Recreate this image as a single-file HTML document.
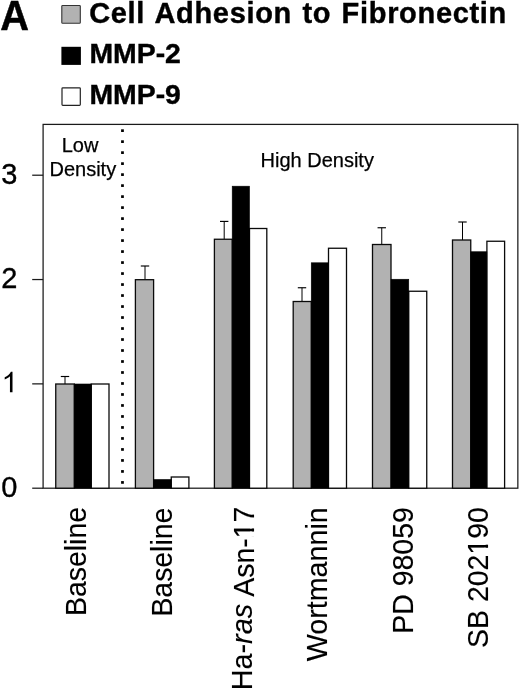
<!DOCTYPE html>
<html><head><meta charset="utf-8"><title>Figure A</title>
<style>
html,body{margin:0;padding:0;background:#fff;}
body{width:520px;height:689px;overflow:hidden;font-family:"Liberation Sans",sans-serif;}
svg{display:block;font-family:"Liberation Sans",sans-serif;filter:blur(0.2px);}
</style></head><body>
<svg width="520" height="689" viewBox="0 0 520 689">
<rect width="520" height="689" fill="#fff"/>

<text transform="translate(0.3,29.5) scale(0.94,1)" font-size="42.3" font-weight="bold" fill="#000" stroke="#000" stroke-width="0.5">A</text>
<rect x="61.8" y="5.5" width="18.5" height="17.8" rx="0.8" fill="#b2b2b2" stroke="#333" stroke-width="1.1"/>
<rect x="61.4" y="46.8" width="19.5" height="18.1" fill="#000"/>
<rect x="62" y="87.8" width="18.3" height="17.6" rx="0.8" fill="#fff" stroke="#222" stroke-width="1.2"/>
<text x="89.2" y="22.8" font-size="29" font-weight="bold" letter-spacing="0.68" word-spacing="1.7" fill="#000" stroke="#000" stroke-width="0.4">Cell Adhesion to Fibronectin</text>
<text x="89.4" y="63.3" font-size="28.4" font-weight="bold" fill="#000" stroke="#000" stroke-width="0.4">MMP-2</text>
<text x="89.4" y="104.4" font-size="28.4" font-weight="bold" fill="#000" stroke="#000" stroke-width="0.4">MMP-9</text>
<rect x="43.1" y="124.4" width="474.75" height="363.8" fill="none" stroke="#1a1a1a" stroke-width="1.25"/>
<line x1="32.2" y1="488.20" x2="43.1" y2="488.20" stroke="#1a1a1a" stroke-width="1.25"/>
<text x="1.2" y="496.80" font-size="29" fill="#000" stroke="#000" stroke-width="0.35">0</text>
<line x1="32.2" y1="383.87" x2="43.1" y2="383.87" stroke="#1a1a1a" stroke-width="1.25"/>
<path d="M12.5 371.7 L12.5 392.2 L9.95 392.2 L9.95 376.3 C8.7 377.5 6.9 378.6 4.7 379.5 L4.7 377.3 C7.5 376 9.7 374 10.9 371.7 Z" fill="#000"/>
<line x1="32.2" y1="279.54" x2="43.1" y2="279.54" stroke="#1a1a1a" stroke-width="1.25"/>
<text x="1.2" y="288.14" font-size="29" fill="#000" stroke="#000" stroke-width="0.35">2</text>
<line x1="32.2" y1="175.21" x2="43.1" y2="175.21" stroke="#1a1a1a" stroke-width="1.25"/>
<text x="1.2" y="183.81" font-size="29" fill="#000" stroke="#000" stroke-width="0.35">3</text>
<rect x="121.1" y="129.30" width="2.75" height="2.7" fill="#000"/>
<rect x="121.1" y="140.29" width="2.75" height="2.7" fill="#000"/>
<rect x="121.1" y="151.29" width="2.75" height="2.7" fill="#000"/>
<rect x="121.1" y="162.28" width="2.75" height="2.7" fill="#000"/>
<rect x="121.1" y="173.27" width="2.75" height="2.7" fill="#000"/>
<rect x="121.1" y="184.26" width="2.75" height="2.7" fill="#000"/>
<rect x="121.1" y="195.26" width="2.75" height="2.7" fill="#000"/>
<rect x="121.1" y="206.25" width="2.75" height="2.7" fill="#000"/>
<rect x="121.1" y="217.24" width="2.75" height="2.7" fill="#000"/>
<rect x="121.1" y="228.24" width="2.75" height="2.7" fill="#000"/>
<rect x="121.1" y="239.23" width="2.75" height="2.7" fill="#000"/>
<rect x="121.1" y="250.22" width="2.75" height="2.7" fill="#000"/>
<rect x="121.1" y="261.22" width="2.75" height="2.7" fill="#000"/>
<rect x="121.1" y="272.21" width="2.75" height="2.7" fill="#000"/>
<rect x="121.1" y="283.20" width="2.75" height="2.7" fill="#000"/>
<rect x="121.1" y="294.19" width="2.75" height="2.7" fill="#000"/>
<rect x="121.1" y="305.19" width="2.75" height="2.7" fill="#000"/>
<rect x="121.1" y="316.18" width="2.75" height="2.7" fill="#000"/>
<rect x="121.1" y="327.17" width="2.75" height="2.7" fill="#000"/>
<rect x="121.1" y="338.17" width="2.75" height="2.7" fill="#000"/>
<rect x="121.1" y="349.16" width="2.75" height="2.7" fill="#000"/>
<rect x="121.1" y="360.15" width="2.75" height="2.7" fill="#000"/>
<rect x="121.1" y="371.15" width="2.75" height="2.7" fill="#000"/>
<rect x="121.1" y="382.14" width="2.75" height="2.7" fill="#000"/>
<rect x="121.1" y="393.13" width="2.75" height="2.7" fill="#000"/>
<rect x="121.1" y="404.12" width="2.75" height="2.7" fill="#000"/>
<rect x="121.1" y="415.12" width="2.75" height="2.7" fill="#000"/>
<rect x="121.1" y="426.11" width="2.75" height="2.7" fill="#000"/>
<rect x="121.1" y="437.10" width="2.75" height="2.7" fill="#000"/>
<rect x="121.1" y="448.10" width="2.75" height="2.7" fill="#000"/>
<rect x="121.1" y="459.09" width="2.75" height="2.7" fill="#000"/>
<rect x="121.1" y="470.08" width="2.75" height="2.7" fill="#000"/>
<rect x="121.1" y="481.08" width="2.75" height="2.7" fill="#000"/>
<text x="80" y="151.8" font-size="20" text-anchor="middle" fill="#000" stroke="#000" stroke-width="0.25">Low</text>
<text x="82.85" y="175.8" font-size="20" text-anchor="middle" fill="#000" stroke="#000" stroke-width="0.25">Density</text>
<text x="317.25" y="167.1" font-size="20" text-anchor="middle" fill="#000" stroke="#000" stroke-width="0.25">High Density</text>
<line x1="65.00" y1="376.50" x2="65.00" y2="384.00" stroke="#000" stroke-width="1"/>
<line x1="60.80" y1="376.50" x2="69.20" y2="376.50" stroke="#000" stroke-width="1.15"/>
<rect x="55.75" y="384.00" width="18.50" height="104.20" fill="#b2b2b2" stroke="#0a0a0a" stroke-width="1.3"/>
<rect x="91.25" y="384.00" width="17.75" height="104.20" fill="#fff" stroke="#0a0a0a" stroke-width="1.3"/>
<rect x="74.25" y="384.00" width="17.00" height="104.20" fill="#000" stroke="#000" stroke-width="0.6"/>
<line x1="145.00" y1="266.00" x2="145.00" y2="279.70" stroke="#000" stroke-width="1"/>
<line x1="140.80" y1="266.00" x2="149.20" y2="266.00" stroke="#000" stroke-width="1.15"/>
<rect x="135.40" y="279.70" width="18.20" height="208.50" fill="#b2b2b2" stroke="#0a0a0a" stroke-width="1.3"/>
<rect x="171.25" y="477.00" width="17.65" height="11.20" fill="#fff" stroke="#0a0a0a" stroke-width="1.3"/>
<rect x="153.60" y="479.50" width="17.65" height="8.70" fill="#000" stroke="#000" stroke-width="0.6"/>
<line x1="224.20" y1="221.40" x2="224.20" y2="239.25" stroke="#000" stroke-width="1"/>
<line x1="220.00" y1="221.40" x2="228.40" y2="221.40" stroke="#000" stroke-width="1.15"/>
<rect x="214.40" y="239.25" width="17.80" height="248.95" fill="#b2b2b2" stroke="#0a0a0a" stroke-width="1.3"/>
<rect x="249.50" y="228.50" width="17.30" height="259.70" fill="#fff" stroke="#0a0a0a" stroke-width="1.3"/>
<rect x="232.20" y="186.20" width="17.30" height="302.00" fill="#000" stroke="#000" stroke-width="0.6"/>
<line x1="302.00" y1="287.75" x2="302.00" y2="301.50" stroke="#000" stroke-width="1"/>
<line x1="297.80" y1="287.75" x2="306.20" y2="287.75" stroke="#000" stroke-width="1.15"/>
<rect x="293.20" y="301.50" width="18.05" height="186.70" fill="#b2b2b2" stroke="#0a0a0a" stroke-width="1.3"/>
<rect x="328.50" y="248.25" width="18.00" height="239.95" fill="#fff" stroke="#0a0a0a" stroke-width="1.3"/>
<rect x="311.25" y="262.80" width="17.25" height="225.40" fill="#000" stroke="#000" stroke-width="0.6"/>
<line x1="381.75" y1="227.75" x2="381.75" y2="244.50" stroke="#000" stroke-width="1"/>
<line x1="377.55" y1="227.75" x2="385.95" y2="227.75" stroke="#000" stroke-width="1.15"/>
<rect x="372.50" y="244.50" width="18.50" height="243.70" fill="#b2b2b2" stroke="#0a0a0a" stroke-width="1.3"/>
<rect x="408.75" y="291.25" width="18.00" height="196.95" fill="#fff" stroke="#0a0a0a" stroke-width="1.3"/>
<rect x="391.00" y="279.25" width="17.75" height="208.95" fill="#000" stroke="#000" stroke-width="0.6"/>
<line x1="462.50" y1="222.00" x2="462.50" y2="240.00" stroke="#000" stroke-width="1"/>
<line x1="458.30" y1="222.00" x2="466.70" y2="222.00" stroke="#000" stroke-width="1.15"/>
<rect x="452.50" y="240.00" width="18.25" height="248.20" fill="#b2b2b2" stroke="#0a0a0a" stroke-width="1.3"/>
<rect x="486.90" y="241.25" width="17.70" height="246.95" fill="#fff" stroke="#0a0a0a" stroke-width="1.3"/>
<rect x="470.75" y="251.75" width="16.15" height="236.45" fill="#000" stroke="#000" stroke-width="0.6"/>
<text transform="translate(85.9,507.0) rotate(-90) scale(1,1.03)" text-anchor="end" font-size="28.4" fill="#000" stroke="#000" stroke-width="0.12">Baseline</text>
<text transform="translate(172.2,507.7) rotate(-90) scale(1,1.03)" text-anchor="end" font-size="28.4" fill="#000" stroke="#000" stroke-width="0.12">Baseline</text>
<g transform="translate(253.70000000000002,506.8) rotate(-90) scale(1,1.03)"><text text-anchor="end" font-size="28.4" fill="#000" stroke="#000" stroke-width="0.12">Asn-17</text><rect x="-30.06" y="-3.46" width="5.32" height="4.96" fill="#fff"/><rect x="-21.63" y="-3.46" width="5.32" height="4.96" fill="#fff"/></g>
<text transform="translate(252.4,690.3) rotate(-90) scale(1,1.03)" text-anchor="start" font-size="28.8" fill="#000" stroke="#000" stroke-width="0.12">Ha-<tspan font-style="italic">ras</tspan></text>
<text transform="translate(327.1,507.2) rotate(-90) scale(1,1.03)" text-anchor="end" font-size="28.7" fill="#000" stroke="#000" stroke-width="0.12">Wortmannin</text>
<text transform="translate(413.2,507.2) rotate(-90) scale(1,1.03)" text-anchor="end" font-size="28.45" fill="#000" stroke="#000" stroke-width="0.12">PD 98059</text>
<g transform="translate(487.5,507.2) rotate(-90) scale(1,1.03)"><text text-anchor="end" font-size="28.45" fill="#000" stroke="#000" stroke-width="0.12">SB 202190</text><rect x="-45.93" y="-3.47" width="5.33" height="4.97" fill="#fff"/><rect x="-37.49" y="-3.47" width="5.33" height="4.97" fill="#fff"/></g>
</svg></body></html>
